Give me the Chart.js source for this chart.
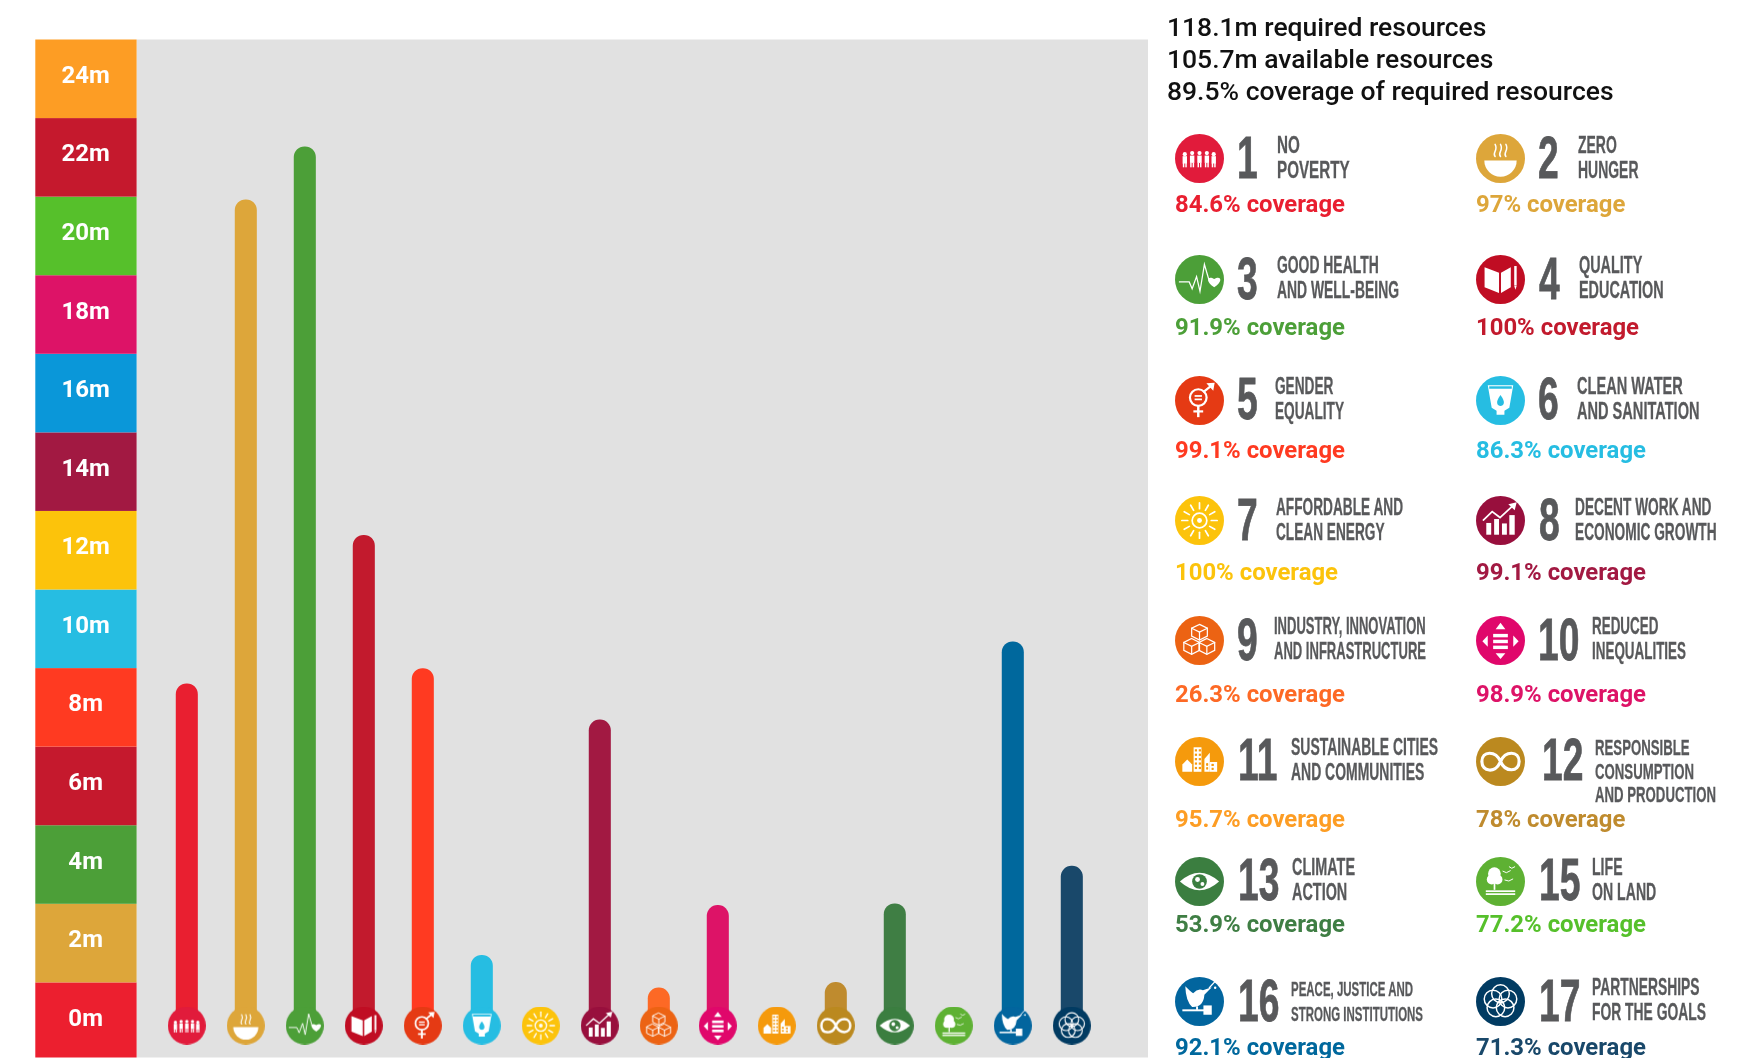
<!DOCTYPE html>
<html>
<head>
<meta charset="utf-8">
<title>Coverage of required resources by goal</title>
<script src="https://cdn.jsdelivr.net/npm/chart.js@4"></script>
<style>
  html, body { margin: 0; background: #fff; overflow: hidden; }
  #page { position: relative; width: 1749px; height: 1058px; overflow: hidden; }
  #chart { position: absolute; left: 0; top: 0; }
  .txt { position: absolute; white-space: nowrap; line-height: 1; transform-origin: 0 50%; }
  .badge { position: absolute; }
</style>
</head>
<body>
<div id="page"><canvas id="chart" width="1749" height="1058"></canvas></div>
<script>
// ── Data ──────────────────────────────────────────────────

const goalLabels = ['1', '2', '3', '4', '5', '6', '7', '8', '9', '10', '11', '12', '13', '15', '16', '17'];
const availableMillions = [8.55, 20.87, 22.22, 12.33, 8.94, 1.64, 0.3, 7.63, 0.81, 2.91, 0.3, 0.95, 2.95, 0.3, 9.62, 3.91];
const badgeLevel = [-0.15, -0.15, -0.15, -0.15, -0.15, -0.15, -0.15, -0.15, -0.15, -0.15, -0.15, -0.15, -0.15, -0.15, -0.15, -0.15];
const tickValues = [0, 2, 4, 6, 8, 10, 12, 14, 16, 18, 20, 22, 24];
const bandColors = ['#ec1f2f', '#dda63a', '#4c9f38', '#c5192d', '#ff3a21', '#26bde2', '#fcc30b', '#a21942', '#0a97d9', '#dd1367', '#56c02b', '#c5192d', '#fd9d24'];
const barColors = ['#e91f30', '#dda63a', '#4c9f38', '#c21a2d', '#ff3a21', '#26bde2', '#fcc30b', '#a21942', '#fd6925', '#dd1367', '#fd9d24', '#bf8b2e', '#3f7e44', '#56c02b', '#00689d', '#19486a'];
const badgeColors = ['#e11b3b', '#dda63a', '#4c9f38', '#c00d23', '#e53a14', '#26bde2', '#fcc30b', '#980f3d', '#ec6313', '#e0076b', '#f59a0c', '#bb891f', '#3b7e40', '#5eb133', '#02659e', '#013b62'];

const summaryLines = ['118.1m required resources', '105.7m available resources', '89.5% coverage of required resources'];
const goalTitles = [
    ['NO', 'POVERTY'], ['ZERO', 'HUNGER'], ['GOOD HEALTH', 'AND WELL-BEING'], ['QUALITY', 'EDUCATION'],
    ['GENDER', 'EQUALITY'], ['CLEAN WATER', 'AND SANITATION'], ['AFFORDABLE AND', 'CLEAN ENERGY'], ['DECENT WORK AND', 'ECONOMIC GROWTH'],
    ['INDUSTRY, INNOVATION', 'AND INFRASTRUCTURE'], ['REDUCED', 'INEQUALITIES'], ['SUSTAINABLE CITIES', 'AND COMMUNITIES'], ['RESPONSIBLE', 'CONSUMPTION', 'AND PRODUCTION'],
    ['CLIMATE', 'ACTION'], ['LIFE', 'ON LAND'], ['PEACE, JUSTICE AND', 'STRONG INSTITUTIONS'], ['PARTNERSHIPS', 'FOR THE GOALS']
];
const goalCoverage = ['84.6%', '97%', '91.9%', '100%', '99.1%', '86.3%', '100%', '99.1%', '26.3%', '98.9%', '95.7%', '78%', '53.9%', '77.2%', '92.1%', '71.3%'];

// ── Legend layout (page pixels) ───────────────────────────

const rowCenters = [158.7, 279.3, 400, 520.7, 640.3, 761, 881, 1001.3];
const rowCoverage = [213.5, 336.5, 459.5, 581.5, 703.5, 828.5, 933, 1056.5];
const numberX = [1237, 1538, 1237, 1539, 1237, 1538, 1237, 1539, 1237, 1538, 1238, 1542, 1238, 1539, 1238, 1539];
const titleX = [1277.4, 1577.9, 1277, 1579.4, 1275, 1576.7, 1276.3, 1574.8, 1274.4, 1591.6, 1290.8, 1595, 1291.6, 1591.6, 1291, 1591.6];
const titleWidth = [72.7, 60.5, 122, 84.6, 69, 122.5, 127, 141.6, 152, 94, 147, 121, 63, 64.3, 132, 114];
const titleSize = [23.5, 23.5, 23.5, 23.5, 23.5, 23.5, 23.5, 23.5, 23.5, 23.5, 23.5, 22, 23.5, 23.5, 20.5, 23.5];

// ── Goal badges ───────────────────────────────────────────

function polygon(ctx, pts) {
    ctx.beginPath();
    pts.forEach((p, i) => i ? ctx.lineTo(p[0], p[1]) : ctx.moveTo(p[0], p[1]));
    ctx.closePath();
}

function strokeLine(ctx, pts) {
    ctx.beginPath();
    pts.forEach((p, i) => i ? ctx.lineTo(p[0], p[1]) : ctx.moveTo(p[0], p[1]));
    ctx.stroke();
}

function dot(ctx, x, y, r) {
    ctx.beginPath();
    ctx.arc(x, y, r, 0, Math.PI * 2);
}

const iconPainters = {
    '1'(c) {
        [[-0.6, 0.8], [-0.3, 1], [0, 1], [0.3, 1], [0.58, 0.8]].forEach(([x, h]) => {
            dot(c, x, -0.22 * h, 0.085); c.fill();
            c.fillRect(x - 0.09, -0.12 * h, 0.18, 0.3);
            c.fillRect(x - 0.08, 0.18, 0.06, 0.18);
            c.fillRect(x + 0.02, 0.18, 0.06, 0.18);
        });
    },
    '2'(c, col) {
        c.beginPath(); c.arc(0, 0.08, 0.66, 0, Math.PI); c.closePath(); c.fill();
        c.lineWidth = 0.06;
        [-0.22, 0, 0.22].forEach(x => {
            c.beginPath(); c.moveTo(x, -0.08);
            c.bezierCurveTo(x - 0.14, -0.22, x + 0.14, -0.34, x, -0.58);
            c.stroke();
        });
    },
    '3'(c) {
        c.lineWidth = 0.05;
        strokeLine(c, [[-0.82, 0.1], [-0.42, 0.1], [-0.3, 0.38], [-0.12, -0.12], [0.02, 0.48], [0.2, -0.62], [0.38, 0]]);
        c.beginPath(); c.moveTo(0.6, 0.32);
        c.bezierCurveTo(0.2, 0.05, 0.34, -0.18, 0.6, -0.02);
        c.bezierCurveTo(0.86, -0.18, 1, 0.05, 0.6, 0.32);
        c.fill();
    },
    '4'(c) {
        c.lineWidth = 0.05;
        polygon(c, [[-0.65, -0.5], [-0.06, -0.28], [-0.06, 0.55], [-0.65, 0.32]]); c.fill();
        polygon(c, [[0.42, -0.5], [0.02, -0.28], [0.02, 0.55], [0.42, 0.32]]); c.fill();
        c.fillRect(0.56, -0.55, 0.1, 0.8);
        polygon(c, [[0.56, 0.27], [0.66, 0.27], [0.61, 0.42]]); c.fill();
    },
    '5'(c, col) {
        c.lineWidth = 0.09;
        dot(c, -0.05, -0.12, 0.34); c.stroke();
        c.fillRect(-0.2, -0.22, 0.3, 0.07);
        c.fillRect(-0.2, -0.08, 0.3, 0.07);
        c.fillRect(-0.1, 0.22, 0.1, 0.46);
        c.fillRect(-0.25, 0.4, 0.4, 0.09);
        strokeLine(c, [[0.18, -0.36], [0.5, -0.62]]);
        polygon(c, [[0.28, -0.7], [0.62, -0.72], [0.56, -0.4]]); c.fill();
    },
    '6'(c, col) {
        polygon(c, [[-0.52, -0.62], [0.52, -0.62], [0.36, 0.3], [0.16, 0.42], [0.16, 0.58], [-0.16, 0.58], [-0.16, 0.42], [-0.36, 0.3]]);
        c.fill();
        c.fillStyle = col;
        c.fillRect(-0.46, -0.58, 0.92, 0.1);
        c.beginPath(); c.moveTo(0, -0.22);
        c.bezierCurveTo(0.24, 0.1, 0.12, 0.22, 0, 0.22);
        c.bezierCurveTo(-0.12, 0.22, -0.24, 0.1, 0, -0.22);
        c.fill();
    },
    '7'(c) {
        c.lineWidth = 0.07;
        dot(c, 0, 0, 0.3); c.stroke();
        dot(c, 0, 0, 0.1); c.fill();
        for (let i = 0; i < 12; i++) {
            const a = i * Math.PI / 6;
            strokeLine(c, [[Math.cos(a) * 0.48, Math.sin(a) * 0.48], [Math.cos(a) * 0.72, Math.sin(a) * 0.72]]);
        }
    },
    '8'(c) {
        [[-0.58, 0.1, 0.2], [-0.26, -0.06, 0.2], [0.06, 0.12, 0.2], [0.36, -0.22, 0.22]].forEach(([x, y, w]) => {
            c.fillRect(x, y, w, 0.58 - y);
        });
        c.lineWidth = 0.07;
        strokeLine(c, [[-0.7, -0.02], [-0.34, -0.36], [-0.02, -0.12], [0.52, -0.62]]);
        polygon(c, [[0.32, -0.66], [0.66, -0.74], [0.58, -0.42]]); c.fill();
    },
    '9'(c) {
        c.lineWidth = 0.05;
        [[0, -0.34], [-0.32, 0.24], [0.3, 0.24]].forEach(([x, y]) => {
            const s = 0.32;
            polygon(c, [[x, y - s], [x + s, y - s / 2], [x + s, y + s / 2], [x, y + s], [x - s, y + s / 2], [x - s, y - s / 2]]);
            c.stroke();
            strokeLine(c, [[x - s, y - s / 2], [x, y], [x + s, y - s / 2]]);
            strokeLine(c, [[x, y], [x, y + s]]);
        });
    },
    '10'(c) {
        c.fillRect(-0.3, -0.27, 0.6, 0.14);
        c.fillRect(-0.3, -0.03, 0.6, 0.14);
        c.fillRect(-0.3, 0.21, 0.6, 0.14);
        polygon(c, [[0, -0.72], [0.2, -0.46], [-0.2, -0.46]]); c.fill();
        polygon(c, [[0, 0.76], [0.2, 0.52], [-0.2, 0.52]]); c.fill();
        polygon(c, [[-0.74, 0.03], [-0.52, -0.2], [-0.52, 0.26]]); c.fill();
        polygon(c, [[0.74, 0.03], [0.52, -0.2], [0.52, 0.26]]); c.fill();
    },
    '11'(c, col) {
        c.fillRect(-0.24, -0.58, 0.32, 1);
        polygon(c, [[0.2, 0.42], [0.2, -0.1], [0.42, -0.36], [0.42, 0.42]]); c.fill();
        c.fillRect(0.42, 0.02, 0.3, 0.4);
        polygon(c, [[-0.7, 0.42], [-0.7, 0.12], [-0.5, -0.08], [-0.3, 0.12], [-0.3, 0.42]]); c.fill();
        c.fillStyle = col;
        for (let row = 0; row < 5; row++) {
            c.fillRect(-0.19, -0.5 + row * 0.18, 0.09, 0.09);
            c.fillRect(-0.03, -0.5 + row * 0.18, 0.09, 0.09);
            c.fillRect(0.28, 0.08 + (row % 2) * 0.16, 0.07, 0.08);
            c.fillRect(0.5, 0.1 + (row % 2) * 0.16, 0.07, 0.08);
        }
    },
    '12'(c) {
        c.lineWidth = 0.13;
        c.beginPath();
        c.moveTo(0, 0);
        c.bezierCurveTo(0.2, -0.46, 0.76, -0.44, 0.76, 0);
        c.bezierCurveTo(0.76, 0.44, 0.2, 0.46, 0, 0);
        c.bezierCurveTo(-0.2, -0.46, -0.76, -0.44, -0.76, 0);
        c.bezierCurveTo(-0.76, 0.44, -0.2, 0.46, -0.04, 0.08);
        c.stroke();
    },
    '13'(c, col) {
        c.beginPath(); c.moveTo(-0.8, 0);
        c.quadraticCurveTo(0, -0.72, 0.8, 0);
        c.quadraticCurveTo(0, 0.72, -0.8, 0);
        c.fill();
        c.fillStyle = col;
        dot(c, 0, 0, 0.3); c.fill();
        c.fillStyle = '#fff';
        dot(c, -0.08, -0.08, 0.1); c.fill();
        dot(c, 0.12, 0.1, 0.08); c.fill();
    },
    '15'(c) {
        dot(c, -0.25, -0.32, 0.26); c.fill();
        dot(c, -0.36, -0.08, 0.2); c.fill();
        dot(c, -0.12, -0.08, 0.2); c.fill();
        c.fillRect(-0.28, 0, 0.07, 0.34);
        c.fillRect(-0.6, 0.36, 1.2, 0.07);
        c.fillRect(-0.6, 0.48, 1.2, 0.07);
        c.lineWidth = 0.04;
        strokeLine(c, [[0.1, -0.42], [0.24, -0.36], [0.4, -0.44]]);
        strokeLine(c, [[0.18, -0.06], [0.34, -0.02], [0.5, -0.1]]);
        strokeLine(c, [[0.36, -0.6], [0.46, -0.54], [0.58, -0.6]]);
    },
    '16'(c) {
        c.beginPath(); c.moveTo(-0.58, -0.62);
        c.quadraticCurveTo(-0.36, -0.4, -0.26, -0.34);
        c.quadraticCurveTo(-0.06, -0.56, 0.14, -0.46);
        c.lineTo(0.5, -0.58);
        c.lineTo(0.2, -0.28);
        c.quadraticCurveTo(0.16, 0.24, -0.3, 0.22);
        c.quadraticCurveTo(-0.56, 0, -0.58, -0.62);
        c.fill();
        c.fillRect(-0.7, 0.32, 1.04, 0.08);
        c.fillRect(0.16, 0.16, 0.34, 0.38);
        c.fillRect(-0.14, 0.2, 0.08, 0.14);
        c.lineWidth = 0.05;
        strokeLine(c, [[0.4, -0.56], [0.64, -0.82]]);
        dot(c, 0.64, -0.56, 0.05); c.fill();
    },
    '17'(c) {
        c.lineWidth = 0.06;
        for (let i = 0; i < 5; i++) {
            const a = -Math.PI / 2 + i * 2 * Math.PI / 5;
            dot(c, Math.cos(a) * 0.32, Math.sin(a) * 0.32, 0.36);
            c.stroke();
        }
    }
};

function makeBadge(goal, color, r) {
    const canvas = document.createElement('canvas');
    canvas.width = canvas.height = Math.ceil(r * 2);
    const c = canvas.getContext('2d');
    c.translate(canvas.width / 2, canvas.height / 2);
    c.fillStyle = color;
    dot(c, 0, 0, r);
    c.fill();
    c.scale(r, r);
    c.fillStyle = '#fff';
    c.strokeStyle = '#fff';
    c.lineCap = 'round';
    iconPainters[goal](c, color);
    return canvas;
}

// ── Chart ─────────────────────────────────────────────────

const bandsPlugin = {
    id: 'bands',
    beforeDraw(chart) {
        const { ctx, scales: { y }, chartArea } = chart;
        ctx.save();
        ctx.fillStyle = '#e1e1e1';
        ctx.fillRect(136.6, chartArea.top, 1148 - 136.6, chartArea.bottom - chartArea.top);
        tickValues.forEach((v, i) => {
            const top = y.getPixelForValue(v + 0.95);
            const bottom = i === 0 ? chartArea.bottom : y.getPixelForValue(v - 1.05);
            ctx.fillStyle = bandColors[i];
            ctx.fillRect(35.3, top, 101.3, bottom - top);
        });
        ctx.restore();
    }
};

new Chart(document.getElementById('chart'), {
    type: 'bar',
    plugins: [bandsPlugin],
    data: {
        labels: goalLabels,
        datasets: [
            {
                type: 'line',
                label: 'Goal',
                order: 0,
                data: badgeLevel,
                showLine: false,
                borderWidth: 0,
                pointStyle: goalLabels.map((g, i) => makeBadge(g, badgeColors[i], 19)),
                // the canvas style sets the drawn size; a big radius would only pad the layout
                pointRadius: 0.5,
                pointHoverRadius: 0,
                pointBorderWidth: 0
            },
            {
                label: 'Available resources',
                order: 1,
                data: availableMillions,
                backgroundColor: barColors,
                barThickness: 21.4,
                borderRadius: { topLeft: 10.7, topRight: 10.7 },
                borderSkipped: 'bottom'
            }
        ]
    },
    options: {
        responsive: false,
        animation: false,
        events: [],
        layout: { padding: { left: 35.3, right: 647.7, top: 39.5, bottom: 0 } },
        plugins: { legend: { display: false }, tooltip: { enabled: false } },
        scales: {
            x: { display: false, offset: true },
            y: {
                min: -0.962,
                max: 24.95,
                afterBuildTicks(scale) { scale.ticks = tickValues.map(v => ({ value: v })); },
                afterFit(scale) {
                    // tick padding would otherwise push the plot in from top and bottom
                    scale.width = 122;
                    scale.paddingTop = 0;
                    scale.paddingBottom = 0;
                },
                grid: { display: false, drawTicks: false },
                border: { display: false },
                ticks: {
                    autoSkip: false,
                    crossAlign: 'center',
                    padding: 47.5,
                    color: '#fff',
                    font: { family: 'Roboto', size: 24, weight: '700' },
                    callback: v => v + 'm'
                }
            }
        }
    }
});

// ── Legend ────────────────────────────────────────────────

const page = document.getElementById('page');

function addText(text, x, baseline, size, family, weight, color, scaleX) {
    const el = document.createElement('div');
    el.className = 'txt';
    el.textContent = text;
    el.style.left = x + 'px';
    el.style.top = (baseline - size * 0.845) + 'px';
    el.style.font = weight + ' ' + size + 'px ' + family;
    el.style.lineHeight = '1';
    el.style.color = color;
    if (scaleX) el.style.transform = 'scaleX(' + scaleX + ')';
    page.appendChild(el);
    return el;
}

summaryLines.forEach((line, i) => {
    addText(line, 1167, [36, 68.5, 100][i], 26.5, 'Roboto', 500, '#111');
});

goalLabels.forEach((goal, i) => {
    const col = i % 2;
    const row = Math.floor(i / 2);
    const cy = rowCenters[row];

    const badge = makeBadge(goal, badgeColors[i], 24.5);
    badge.className = 'badge';
    badge.style.left = ([1199.4, 1500][col] - 24.5) + 'px';
    badge.style.top = (cy - 24.5) + 'px';
    page.appendChild(badge);

    const number = addText(goal, numberX[i], cy + 20, 60, '"Liberation Sans"', 700, '#58595b', 0.62);
    number.style.webkitTextStroke = '0.8px #58595b';

    const spacing = goalTitles[i].length > 2 ? 23.5 : 25;
    const lines = goalTitles[i].map((line, j) =>
        addText(line, titleX[i], cy - 5 + j * spacing, titleSize[i], '"Liberation Sans"', 700, '#58595b'));
    const widest = Math.max(...lines.map(el => el.getBoundingClientRect().width));
    lines.forEach(el => {
        el.style.transform = 'scaleX(' + (titleWidth[i] / widest) + ')';
        el.style.webkitTextStroke = '0.3px #58595b';
    });

    addText(goalCoverage[i] + ' coverage', [1175, 1476][col], rowCoverage[row], 23.9, 'Roboto', 700, barColors[i]);
});
</script>
</body>
</html>
